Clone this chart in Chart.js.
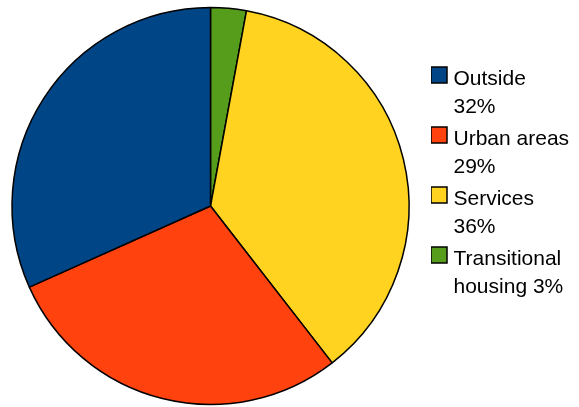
<!DOCTYPE html>
<html>
<head>
<meta charset="utf-8">
<script src="https://cdn.jsdelivr.net/npm/chart.js@4/dist/chart.umd.min.js"></script>
<style>
  html, body { margin: 0; padding: 0; background: #ffffff; overflow: hidden; width: 579px; height: 407px; }
  #wrap { position: relative; width: 589px; height: 407px; margin-left: -10px; }
</style>
</head>
<body>
<div id="wrap"><canvas id="c"></canvas></div>
<script>
// Categories in legend order
const categories = ['Outside', 'Urban areas', 'Services', 'Transitional housing'];
// Slice values (share of total, %)
const values = [31.7, 28.8, 36.6, 2.9];
// Percent labels shown in the legend
const percentLabels = ['32%', '29%', '36%', '3%'];
// Legend text lines as wrapped in the original
const legendLines = [
  ['Outside', '32%'],
  ['Urban areas', '29%'],
  ['Services', '36%'],
  ['Transitional', 'housing 3%']
];
const colors = ['#004586', '#ff420e', '#ffd320', '#579d1c'];

// The pie runs clockwise from the top: Transitional, Services, Urban areas, Outside
const order = [3, 2, 1, 0];
const dataLabels = order.map(i => categories[i]);
const dataValues = order.map(i => values[i]);
const dataColors = order.map(i => colors[i]);
const dataLegend = order.map(i => legendLines[i]);

// legend swatch: square with black outline, sitting at the top of the label block
function makeSwatch(color) {
  const c = document.createElement('canvas');
  c.width = 18; c.height = 26;
  const g = c.getContext('2d');
  g.fillStyle = color;
  g.fillRect(1, 1, 16, 16);
  g.strokeStyle = '#000000';
  g.lineWidth = 1.5;
  g.strokeRect(1, 1, 16, 16);
  return c;
}

Chart.defaults.font.family = '"Liberation Sans", Arial, sans-serif';
Chart.defaults.color = '#000000';

new Chart(document.getElementById('c'), {
  type: 'pie',
  data: {
    labels: dataLabels,
    datasets: [{
      data: dataValues,
      backgroundColor: dataColors,
      borderColor: '#000000',
      borderWidth: 1.5,
      hoverOffset: 0,
      hoverBorderWidth: 1.5
    }]
  },
  options: {
    responsive: true,
    maintainAspectRatio: false,
    animation: false,
    devicePixelRatio: 1,
    rotation: 0,
    radius: 198.5,
    layout: { padding: { left: 0, right: 8, top: 5, bottom: 0 } },
    plugins: {
      tooltip: { enabled: false },
      legend: {
        position: 'right',
        align: 'start',
        reverse: true,
        maxWidth: 140,
        title: {
          display: true,
          text: '',
          padding: 0,
          font: { size: 12, lineHeight: '59.5px' }
        },
        labels: {
          usePointStyle: true,
          boxWidth: 8,
          boxHeight: 16,
          padding: 4,
          color: '#000000',
          font: { size: 21, lineHeight: '28px' },
          generateLabels(chart) {
            const base = Chart.overrides.doughnut.plugins.legend.labels.generateLabels(chart);
            return base.map(item => Object.assign({}, item, {
              text: dataLegend[item.index],
              pointStyle: makeSwatch(item.fillStyle),
              lineWidth: 1.5,
              strokeStyle: '#000000'
            }));
          }
        }
      }
    }
  }
});
</script>
</body>
</html>
